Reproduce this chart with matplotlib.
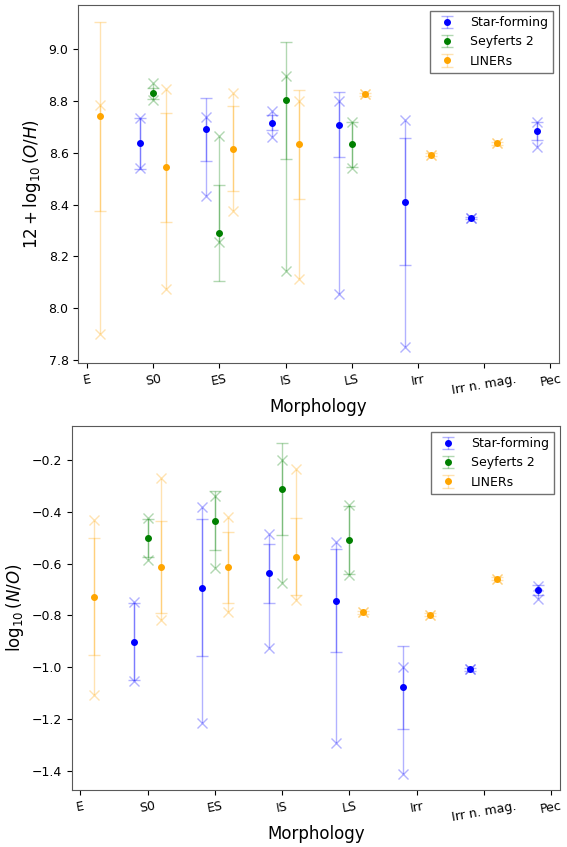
import numpy as np
import matplotlib
matplotlib.use('Agg')
import matplotlib.pyplot as plt

morph = ['E', 'S0', 'ES', 'IS', 'LS', 'Irr', 'Irr n. mag.', 'Pec']

# 12 + log(O/H)
sf_oh_cat = ['S0', 'ES', 'IS', 'LS', 'Irr', 'Irr n. mag.', 'Pec']
sf_oh_mean = [8.636, 8.690, 8.716, 8.709, 8.412, 8.348, 8.683]
sf_oh_std = [0.098, 0.122, 0.030, 0.127, 0.246, 0.005, 0.035]
sf_oh_min = [8.542, 8.432, 8.661, 8.055, 7.851, 8.348, 8.621]
sf_oh_max = [8.735, 8.739, 8.760, 8.799, 8.725, 8.348, 8.718]

sy_oh_cat = ['S0', 'ES', 'IS', 'LS']
sy_oh_mean = [8.829, 8.290, 8.803, 8.632]
sy_oh_std = [0.020, 0.186, 0.226, 0.088]
sy_oh_min = [8.803, 8.255, 8.145, 8.542]
sy_oh_max = [8.870, 8.664, 8.896, 8.718]

li_oh_cat = ['E', 'S0', 'ES', 'IS', 'LS', 'Irr', 'Irr n. mag.']
li_oh_mean = [8.741, 8.544, 8.616, 8.632, 8.825, 8.593, 8.636]
li_oh_std = [0.364, 0.210, 0.165, 0.212, 0.005, 0.005, 0.005]
li_oh_min = [7.900, 8.073, 8.374, 8.113, 8.825, 8.593, 8.636]
li_oh_max = [8.783, 8.847, 8.832, 8.799, 8.825, 8.593, 8.636]

# log(N/O)
sf_no_cat = ['S0', 'ES', 'IS', 'LS', 'Irr', 'Irr n. mag.', 'Pec']
sf_no_mean = [-0.901, -0.693, -0.638, -0.743, -1.078, -1.008, -0.702]
sf_no_std = [0.150, 0.265, 0.113, 0.200, 0.160, 0.005, 0.018]
sf_no_min = [-1.052, -1.214, -0.925, -1.291, -1.412, -1.008, -0.738]
sf_no_max = [-0.750, -0.383, -0.487, -0.515, -0.998, -1.008, -0.685]

sy_no_cat = ['S0', 'ES', 'IS', 'LS']
sy_no_mean = [-0.502, -0.434, -0.313, -0.509]
sy_no_std = [0.072, 0.115, 0.178, 0.132]
sy_no_min = [-0.586, -0.618, -0.674, -0.644]
sy_no_max = [-0.425, -0.339, -0.200, -0.374]

li_no_cat = ['E', 'S0', 'ES', 'IS', 'LS', 'Irr', 'Irr n. mag.']
li_no_mean = [-0.728, -0.613, -0.614, -0.573, -0.788, -0.797, -0.658]
li_no_std = [0.226, 0.178, 0.137, 0.150, 0.005, 0.005, 0.005]
li_no_min = [-1.107, -0.818, -0.786, -0.741, -0.788, -0.797, -0.658]
li_no_max = [-0.432, -0.271, -0.419, -0.236, -0.788, -0.797, -0.658]

labels = ['Star-forming', 'Seyferts 2', 'LINERs']
colors = ['blue', 'green', 'orange']
offsets = [-0.2, 0.0, 0.2]


def draw_group(ax, cat, mean, std, vmin, vmax, color, off, label):
    x = np.array([morph.index(c) for c in cat]) + off
    # min-max range, light
    ax.vlines(x, vmin, vmax, color=color, alpha=0.3, lw=1.0)
    ax.plot(x, vmin, 'x', color=color, alpha=0.3, ms=7)
    ax.plot(x, vmax, 'x', color=color, alpha=0.3, ms=7)
    eb = ax.errorbar(x, mean, yerr=std, fmt='o', color=color, ms=4,
                     capsize=4, elinewidth=1.0, label=label)
    for c in eb[1]:
        c.set_alpha(0.3)
    for c in eb[2]:
        c.set_alpha(0.3)


fig = plt.figure(figsize=(5.67, 8.47), dpi=100)
ax1 = fig.add_axes([0.138, 0.5714, 0.848, 0.4227])
ax2 = fig.add_axes([0.1265, 0.0673, 0.861, 0.4298])

oh = [(sf_oh_cat, sf_oh_mean, sf_oh_std, sf_oh_min, sf_oh_max),
      (sy_oh_cat, sy_oh_mean, sy_oh_std, sy_oh_min, sy_oh_max),
      (li_oh_cat, li_oh_mean, li_oh_std, li_oh_min, li_oh_max)]
no = [(sf_no_cat, sf_no_mean, sf_no_std, sf_no_min, sf_no_max),
      (sy_no_cat, sy_no_mean, sy_no_std, sy_no_min, sy_no_max),
      (li_no_cat, li_no_mean, li_no_std, li_no_min, li_no_max)]

for ax, groups in [(ax1, oh), (ax2, no)]:
    for g, col, off, lab in zip(groups, colors, offsets, labels):
        draw_group(ax, *g, col, off, lab)
    ax.set_xticks(range(len(morph)))
    ax.set_xticklabels(morph, rotation=10, fontsize=9)
    ax.tick_params(axis='y', labelsize=9)
    ax.set_xlim(-0.13, 7.13)
    ax.set_xlabel('Morphology', fontsize=12, labelpad=1)
    ax.legend(loc='upper right', fontsize=9, edgecolor='0.3', fancybox=False)
    for s in ax.spines.values():
        s.set_color('0.35')

ax1.set_ylim(7.789, 9.17)
ax1.set_yticks([7.8, 8.0, 8.2, 8.4, 8.6, 8.8, 9.0])
ax1.set_ylabel(r'$12 + \log_{10}(O/H)$', fontsize=12)

ax2.set_ylim(-1.474, -0.069)
ax2.set_yticks([-1.4, -1.2, -1.0, -0.8, -0.6, -0.4, -0.2])
ax2.set_ylabel(r'$\log_{10}(N/O)$', fontsize=12)

fig.savefig('out.png', dpi=100)
